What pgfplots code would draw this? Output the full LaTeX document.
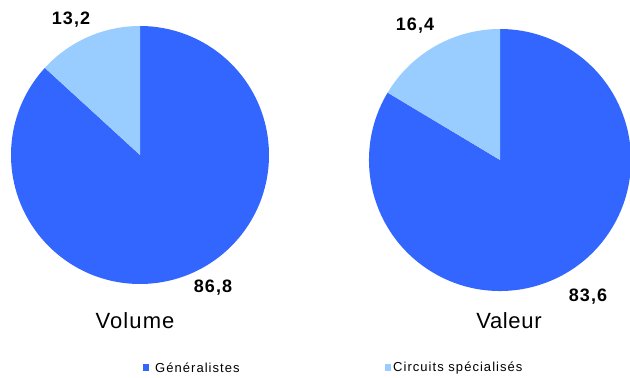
\documentclass[border=0pt]{standalone}
\usepackage{pgfplots}
\usepackage{pgfplotstable}
\usepackage{fontspec}
\setmainfont{Liberation Sans}
\pgfplotsset{compat=1.18}

\definecolor{gen}{HTML}{3366FF}
\definecolor{spe}{HTML}{99CCFF}

% part des ventes (%)
\pgfplotstableread{
pie     gen   spe
Volume  86.8  13.2
Valeur  83.6  16.4
}\shares

\pgfplotstablegetelem{0}{spe}\of\shares \let\speA\pgfplotsretval
\pgfplotstablegetelem{1}{spe}\of\shares \let\speB\pgfplotsretval
\pgfmathsetmacro{\endA}{90+3.6*\speA}
\pgfmathsetmacro{\endB}{90+3.6*\speB}

\tikzset{
  val/.style={font=\fontsize{18}{20}\selectfont\bfseries\addfontfeatures{LetterSpace=6}},
  leg/.style={anchor=west, inner sep=0pt, font=\fontsize{13}{15}\selectfont\addfontfeatures{LetterSpace=8}}}

\begin{document}
\begin{tikzpicture}
\begin{axis}[
    anchor=south west, at={(0,0)},
    width=630pt, height=378pt, scale only axis,
    xmin=0, xmax=630, ymin=0, ymax=378,
    hide axis, clip=false]
  % Volume
  \fill[gen] (axis cs:140,223) -- ++(\endA:129pt) arc[start angle=\endA, end angle=450, radius=129pt] -- cycle;
  \fill[spe] (axis cs:140,223) -- ++(90:129pt) arc[start angle=90, end angle=\endA, radius=129pt] -- cycle;
  % Valeur
  \fill[gen] (axis cs:500,218) -- ++(\endB:131pt) arc[start angle=\endB, end angle=450, radius=131pt] -- cycle;
  \fill[spe] (axis cs:500,218) -- ++(90:131pt) arc[start angle=90, end angle=\endB, radius=131pt] -- cycle;

  \node[val] at (axis cs:71,358) {13,2};
  \node[val] at (axis cs:213,90) {86,8};
  \node[val] at (axis cs:415,352) {16,4};
  \node[val] at (axis cs:588,81) {83,6};

  \node[font=\fontsize{22}{24}\selectfont\addfontfeatures{LetterSpace=5}] at (axis cs:135,57) {Volume};
  \node[font=\fontsize{22}{24}\selectfont\addfontfeatures{LetterSpace=3}] at (axis cs:509,57) {Valeur};

  % legende
  \fill[gen] (axis cs:143,7) rectangle (axis cs:149,14);
  \node[leg] at (axis cs:155,10) {Généralistes};
  \fill[spe] (axis cs:385,7) rectangle (axis cs:391,14);
  \node[leg] at (axis cs:393,10) {Circuits spécialisés};
\end{axis}
\pgfresetboundingbox
\path[use as bounding box] (0,0) rectangle (630pt,378pt);
\end{tikzpicture}
\end{document}
